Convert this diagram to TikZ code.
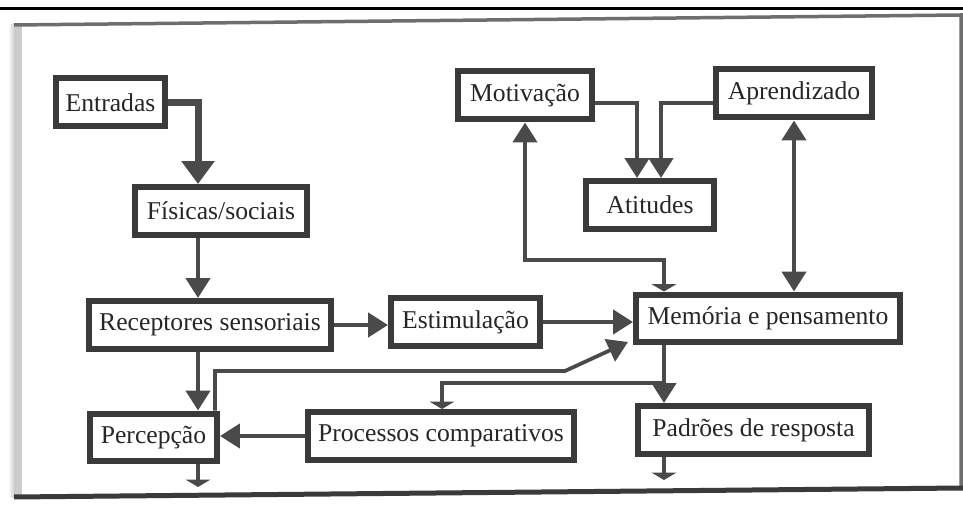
\documentclass[tikz,border=0pt]{standalone}
\usepackage{fontspec}
\setmainfont{Liberation Serif}
\usepackage{xcolor}
\usetikzlibrary{arrows.meta}
\definecolor{boxgray}{HTML}{3A3A3A}
\definecolor{linkgray}{HTML}{4A4A4A}
\definecolor{textgray}{HTML}{262626}
\definecolor{framegray}{HTML}{6E6E6E}
\tikzset{
  box/.style={draw=boxgray, line width=0.12cm, minimum height=0.96cm, inner xsep=0.2cm,
    text=textgray, font=\fontsize{14.6}{17}\selectfont},
  link/.style={draw=linkgray, line width=0.09cm, -{Triangle[length=0.4cm,width=0.48cm]}},
  stub/.style={link, -{Triangle[length=0.15cm,width=0.5cm]}},
}

\begin{document}
\begin{tikzpicture}[x=0.02cm, y=-0.02cm]
\useasboundingbox (0,0) rectangle (963,509);
\fill[white] (0,0) rectangle (963,509);
\shade[left color=white, right color=black!25] (8,25) rectangle (16,497);
\fill[black!20] (16,25) rectangle (22,497);
\draw[black, line width=0.06cm] (0,9) -- (963,9);
\draw[framegray, line width=0.07cm] (14,25) -- (961,15) -- (961,488);
\draw[boxgray, line width=0.1cm] (14,497) -- (963,488);

\node[box, minimum width=2.18cm] (entradas)    at (110.5,102.5) {Entradas};
\node[box, minimum width=3.44cm] (fisicas)     at (221,211)     {Físicas/sociais};
\node[box, minimum width=4.8cm]  (receptores)  at (210,325)     {Receptores sensoriais};
\node[box, minimum width=2.98cm] (estimulacao) at (465.5,322)   {Estimulação};
\node[box, minimum width=2.54cm] (percepcao)   at (153.5,437.5) {Percepção};
\node[box, minimum width=5.24cm] (processos)   at (441,436)     {Processos comparativos};
\node[box, minimum width=5.28cm] (memoria)     at (768,318.5)   {Memória e pensamento};
\node[box, minimum width=4.62cm] (padroes)     at (753.5,430)   {Padrões de resposta};
\node[box, minimum width=2.68cm] (motivacao)   at (525,95.5)    {Motivação};
\node[box, minimum width=3.12cm] (aprendizado) at (794,93.5)    {Aprendizado};
\node[box, minimum width=2.56cm] (atitudes)    at (650,205)     {Atitudes};

\coordinate (spine) at (198,0);
\coordinate (percout) at (198,487);
\coordinate (memcol) at (664,260);
\coordinate (branch) at (664,383);
\coordinate (procin) at (442,383);
\coordinate (padout) at (664,480);
\coordinate (mot2att) at (637,103);
\coordinate (apr2att) at (661,103);
\coordinate (perc2mem) at (215,371);
\coordinate (knee) at (565,371);
\coordinate (memlow) at (628,342);

\draw[link, line width=0.14cm, -{Triangle[length=0.46cm,width=0.64cm]}] (entradas.east) -| (fisicas.north -| spine);
\draw[link] (fisicas.south -| spine) -- (receptores.north -| spine);
\draw[link] (receptores.south -| spine) -- (percepcao.north -| spine);
\draw[stub] (percepcao.south -| percout) -- (percout);
\draw[link] (receptores.east) -- (receptores.east -| estimulacao.west);
\draw[link] (estimulacao.east) -- (estimulacao.east -| memoria.west);
\draw[link, line width=0.075cm] (percepcao.north -| perc2mem) -- (perc2mem) -- (knee) -- (memlow);
\draw[link] (processos.west) -- (processos.west -| percepcao.east);
\draw[link] (memoria.south -| memcol) -- (padroes.north -| memcol);
\draw[stub] (branch) -- (procin) -- (procin |- processos.north);
\draw[stub] (padroes.south -| padout) -- (padout);
\draw[link, {Triangle[length=0.4cm,width=0.48cm]}-{Triangle[length=0.15cm,width=0.5cm]}] (motivacao.south) |- (memcol) -- (memcol |- memoria.north);
\draw[link] (mot2att -| motivacao.east) -| (atitudes.north -| mot2att);
\draw[link] (apr2att -| aprendizado.west) -| (atitudes.north -| apr2att);
\draw[link, {Triangle[length=0.4cm,width=0.48cm]}-{Triangle[length=0.4cm,width=0.48cm]}] (aprendizado.south) -- (aprendizado.south |- memoria.north);
\end{tikzpicture}
\end{document}
